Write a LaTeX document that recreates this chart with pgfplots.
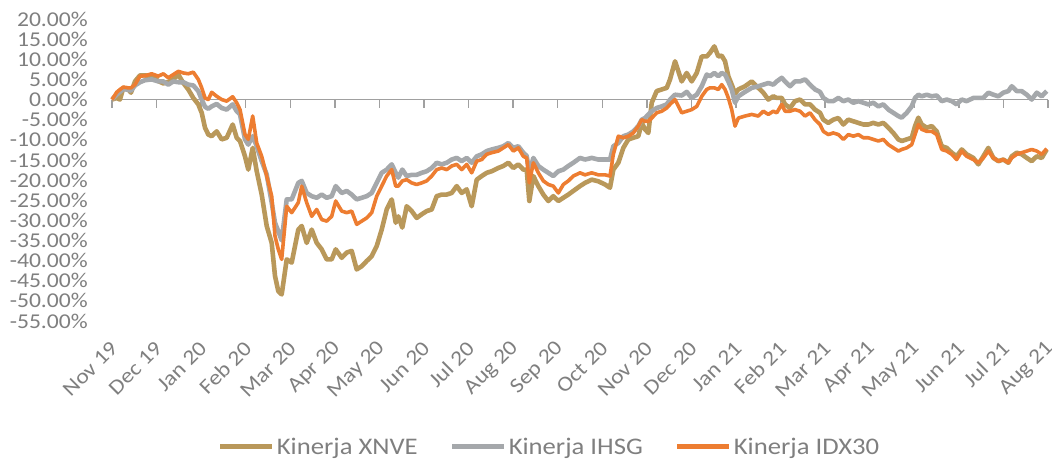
\documentclass[border=0pt]{standalone}
\usepackage{pgfplots}
\usepackage{pgfplotstable}
\pgfplotsset{compat=1.18}
\usepackage{fontspec}
\setmainfont{Carlito}[FakeStretch=1.12]
\definecolor{cgold}{HTML}{B9985A}
\definecolor{cgray}{HTML}{A5A8AB}
\definecolor{corange}{HTML}{ED7D31}
\definecolor{ctext}{HTML}{7F7F7F}
\definecolor{caxis}{HTML}{A0A0A0}

\pgfplotstableread{
m xnve ihsg idx
0 0 0 0
0.105 0.4 1.2 1.8
0.179 0.0 1.9 2.5
0.254 2.9 2.6 3.1
0.366 2.5 2.4 2.9
0.426 1.7 2.2 2.9
0.516 4.5 3.5 3.7
0.628 6.0 4.3 5.8
0.740 6.0 4.8 5.9
0.891 5.8 5.0 6.4
1.039 4.6 4.5 5.8
1.151 4.0 4.5 6.4
1.263 4.4 3.7 5.4
1.375 5.0 4.5 6.2
1.488 6.2 4.3 7.0
1.600 4.1 4.3 6.6
1.712 2.5 3.7 6.4
1.824 0.4 3.5 6.8
1.936 -1.2 2.1 5.0
2.013 -3.3 0.0 2.9
2.087 -7.0 -1.8 0.4
2.161 -8.7 -2.3 0.0
2.237 -9.1 -1.7 1.8
2.349 -7.9 -1.1 0.8
2.461 -9.9 -2.1 0.0
2.573 -9.5 -2.5 -0.4
2.708 -6.2 -1.2 0.7
2.798 -9.5 -2.9 -0.8
2.872 -10.3 -3.7 -2.5
2.984 -14.1 -9.9 -8.7
3.058 -17.4 -11.2 -9.9
3.157 -12.0 -9.1 -4.1
3.247 -17.8 -11.6 -10.8
3.359 -23.6 -15.3 -14.1
3.471 -31.4 -18.6 -19.0
3.583 -35.6 -25.6 -24.0
3.657 -43.8 -30.6 -33.9
3.731 -47.6 -32.7 -37.2
3.807 -48.4 -35.0 -39.7
3.920 -39.7 -24.8 -26.5
4.032 -40.5 -24.8 -28.1
4.180 -32.3 -20.7 -25.6
4.256 -31.4 -20.2 -21.5
4.368 -35.6 -23.2 -25.6
4.481 -32.3 -24.0 -29.0
4.593 -35.6 -24.4 -27.3
4.705 -37.2 -23.6 -29.8
4.817 -39.7 -24.4 -30.2
4.929 -39.7 -24.0 -29.0
5.019 -37.2 -21.5 -25.2
5.154 -39.3 -23.2 -27.7
5.266 -38.0 -22.7 -28.1
5.378 -37.6 -23.6 -27.7
5.490 -42.2 -24.8 -31.0
5.602 -41.4 -24.4 -30.2
5.715 -40.1 -24.0 -29.4
5.827 -38.9 -23.2 -28.1
5.939 -36.4 -20.7 -24.0
6.051 -32.3 -18.2 -21.5
6.163 -27.3 -17.4 -19.0
6.276 -24.8 -16.1 -17.4
6.365 -30.6 -18.2 -21.5
6.424 -29.0 -19.4 -21.5
6.513 -31.8 -17.4 -20.2
6.612 -26.5 -19.0 -19.9
6.724 -27.7 -18.7 -20.7
6.836 -29.4 -18.7 -21.1
6.949 -28.5 -18.2 -20.7
7.061 -27.7 -17.8 -20.2
7.173 -27.3 -17.0 -19.0
7.285 -24.0 -15.7 -17.4
7.397 -23.6 -16.1 -17.0
7.510 -23.6 -15.7 -17.4
7.622 -23.2 -14.9 -16.5
7.734 -21.5 -14.5 -16.1
7.846 -23.2 -15.3 -17.4
7.958 -22.3 -14.5 -16.1
8.070 -26.5 -15.7 -18.2
8.183 -19.9 -14.1 -15.3
8.295 -19.0 -13.6 -14.9
8.407 -18.2 -12.8 -13.6
8.519 -17.8 -12.4 -13.2
8.667 -17.0 -12.0 -12.8
8.780 -16.5 -11.6 -12.0
8.892 -15.7 -10.8 -11.2
9.004 -17.0 -12.0 -12.8
9.116 -16.1 -11.6 -12.0
9.228 -17.4 -13.2 -14.1
9.304 -17.4 -14.0 -14.5
9.363 -25.2 -18.2 -20.7
9.453 -19.0 -14.5 -15.7
9.565 -21.5 -16.5 -18.2
9.677 -23.6 -17.4 -20.2
9.789 -25.2 -18.2 -21.1
9.901 -24.0 -19.0 -21.5
10.014 -25.2 -17.8 -23.2
10.126 -24.4 -17.4 -21.1
10.238 -23.6 -16.5 -20.2
10.350 -22.7 -15.7 -19.0
10.500 -21.5 -14.5 -18.2
10.613 -20.7 -14.9 -18.7
10.763 -19.9 -14.5 -18.2
10.911 -20.3 -14.9 -18.7
11.061 -21.1 -14.9 -18.7
11.173 -21.9 -14.9 -19.0
11.248 -17.4 -11.6 -13.6
11.360 -15.7 -10.8 -9.1
11.472 -12.0 -9.1 -9.5
11.584 -9.9 -8.7 -9.1
11.696 -9.5 -7.9 -8.3
11.808 -9.1 -6.6 -6.6
11.885 -5.8 -5.0 -5.0
11.959 -7.4 -4.6 -5.4
12.033 -8.3 -3.7 -5.4
12.109 -0.8 -2.9 -4.6
12.221 2.1 -2.1 -3.3
12.333 2.5 -1.7 -2.9
12.446 2.9 -1.2 -2.1
12.520 5.0 0.0 -1.2
12.632 9.5 1.2 0.0
12.782 4.5 1.0 -3.3
12.894 6.6 1.9 -2.9
13.006 4.5 0.4 -2.5
13.119 6.6 1.2 -1.7
13.231 10.7 3.3 0.8
13.343 10.7 6.2 2.5
13.417 11.6 5.8 2.9
13.514 13.2 6.6 2.9
13.603 10.7 5.8 2.5
13.680 10.9 6.6 3.7
13.754 9.5 6.2 2.5
13.828 5.8 4.5 0.4
13.904 3.7 2.5 -2.5
13.978 1.5 -0.8 -6.6
14.052 2.5 0.8 -4.6
14.202 3.3 1.9 -4.1
14.353 4.5 2.9 -3.7
14.501 2.9 3.3 -4.1
14.613 1.7 3.7 -2.9
14.725 0.0 4.1 -3.7
14.837 0.8 3.7 -2.9
14.914 0.4 4.5 -3.3
15.026 0.4 5.4 -1.2
15.100 -1.2 4.5 -2.9
15.212 -2.1 3.3 -2.9
15.324 -0.4 4.5 -2.5
15.436 0.0 4.5 -2.9
15.549 -1.2 5.0 -4.1
15.661 -1.2 3.7 -3.3
15.773 -2.5 2.5 -5.0
15.885 -3.3 1.9 -6.2
15.959 -5.0 0.4 -7.9
16.071 -5.8 -0.4 -8.7
16.183 -5.0 -0.4 -8.3
16.296 -4.6 0.4 -8.7
16.408 -6.2 -0.4 -9.9
16.520 -5.0 0.0 -8.7
16.632 -5.4 -0.8 -9.1
16.745 -5.8 -0.4 -8.7
16.857 -6.2 -0.8 -9.5
16.969 -6.2 -1.2 -9.5
17.081 -5.8 -0.8 -9.9
17.193 -6.2 -1.7 -10.3
17.306 -5.8 -1.2 -9.9
17.418 -7.0 -2.5 -11.2
17.530 -8.3 -3.3 -12.0
17.642 -9.9 -4.1 -12.8
17.718 -10.3 -4.5 -12.4
17.830 -9.9 -3.3 -12.0
17.942 -9.5 -1.7 -11.2
18.017 -6.6 0.4 -8.7
18.091 -4.5 1.2 -6.2
18.167 -6.2 0.8 -7.4
18.279 -7.0 1.2 -7.9
18.391 -6.6 0.8 -7.9
18.503 -7.9 1.0 -8.7
18.616 -11.6 -0.4 -12.4
18.728 -12.0 0.0 -12.8
18.840 -13.2 -0.4 -13.6
18.952 -14.1 -1.2 -14.9
19.064 -12.4 0.0 -12.8
19.176 -13.6 -0.4 -14.1
19.325 -14.5 0.4 -14.9
19.437 -16.1 0.4 -15.7
19.549 -14.1 0.4 -14.5
19.661 -12.0 1.7 -12.8
19.774 -14.5 1.2 -14.5
19.886 -15.3 0.8 -15.3
19.998 -14.9 1.7 -14.9
20.110 -15.7 2.1 -15.7
20.186 -14.1 3.3 -14.5
20.298 -13.2 2.1 -13.6
20.410 -13.6 2.1 -13.2
20.523 -14.5 1.2 -12.8
20.635 -15.3 0.0 -12.4
20.747 -14.1 1.7 -12.8
20.859 -14.5 0.8 -13.6
20.972 -12.4 2.1 -12.2
}\datatable

\begin{document}
\begin{tikzpicture}
\begin{axis}[
  scale only axis,
  width=936pt, height=302pt,
  xmin=0, xmax=21, ymin=-55, ymax=20,
  clip=false,
  axis line style={draw=none},
  major tick length=0pt,
  tick style={draw=none},
  xtick={0,...,21},
  xticklabels={Nov 19,Dec 19,Jan 20,Feb 20,Mar 20,Apr 20,May 20,Jun 20,Jul 20,Aug 20,Sep 20,Oct 20,Nov 20,Dec 20,Jan 21,Feb 21,Mar 21,Apr 21,May 21,Jun 21,Jul 21,Aug 21},
  ytick={-55,-50,...,20},
  yticklabels={-55.00\%,-50.00\%,-45.00\%,-40.00\%,-35.00\%,-30.00\%,-25.00\%,-20.00\%,-15.00\%,-10.00\%,-5.00\%,0.00\%,5.00\%,10.00\%,15.00\%,20.00\%},
  tick label style={font=\fontsize{21.1}{24}\selectfont, text=ctext},
  xticklabel style={rotate=45, anchor=east, inner sep=0pt, xshift=3pt},
  xticklabel shift=26pt,
  yticklabel style={anchor=east, inner sep=0pt},
  yticklabel shift=24pt,
  legend columns=3,
  legend cell align=left,
  legend style={draw=none, fill=none, at={(0.4674,-0.417)}, anchor=center,
    font=\fontsize{23.8}{27}\selectfont, text=ctext,
    /tikz/every even column/.append style={column sep=30pt},
    nodes={inner sep=2pt}},
  legend image code/.code={\draw[#1, line width=5pt, line cap=butt] (0pt,0pt) -- (52pt,0pt);},
  line join=round,
]
\coordinate (BL) at (rel axis cs:0,0);
\coordinate (TR) at (rel axis cs:1,1);
\draw[caxis, line width=1.3pt] (axis cs:0,0) -- (axis cs:21,0);
\pgfplotsinvokeforeach{0,...,21}{\draw[caxis, line width=1.3pt] (axis cs:#1,0) -- ++(0pt,-8pt);}
\addplot[cgold, line width=4.6pt, no markers] table[x=m, y=xnve] {\datatable};
\addlegendentry{Kinerja XNVE}
\addplot[cgray, line width=4.6pt, no markers] table[x=m, y=ihsg] {\datatable};
\addlegendentry{Kinerja IHSG}
\addplot[corange, line width=3.6pt, no markers] table[x=m, y=idx] {\datatable};
\addlegendentry{Kinerja IDX30}
\end{axis}
\pgfresetboundingbox
\path[use as bounding box] ([shift={(-112pt,-140pt)}]BL) rectangle ([shift={(4pt,19pt)}]TR);
\end{tikzpicture}
\end{document}
